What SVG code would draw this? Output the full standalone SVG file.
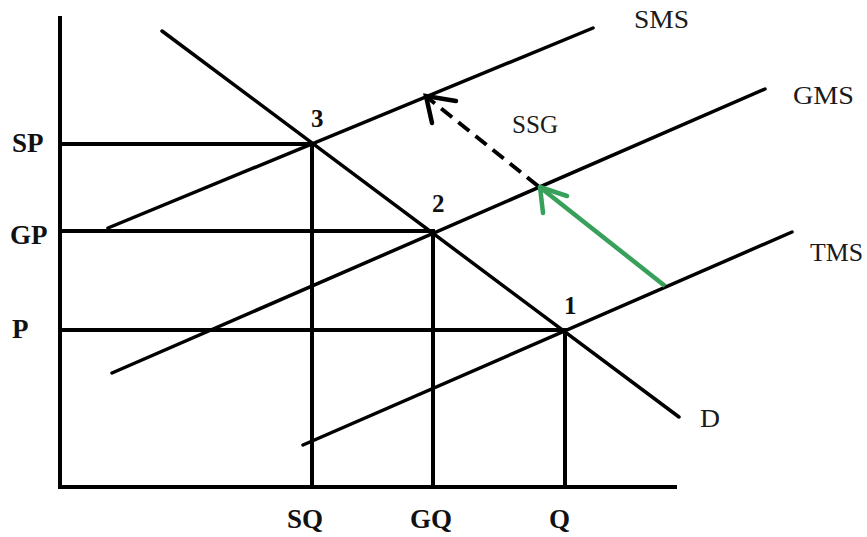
<svg xmlns="http://www.w3.org/2000/svg" width="867" height="537" viewBox="0 0 867 537">
<style>
.ax{stroke:#000;stroke-width:4;fill:none;stroke-linecap:square}
.ln{stroke:#000;stroke-width:3.5;fill:none;stroke-linecap:round}
.lb{font-family:"Liberation Serif","Times New Roman",serif;font-size:25px;fill:#1a1a1a}
.bd{font-family:"Liberation Serif","Times New Roman",serif;font-size:27px;font-weight:bold;fill:#111}
.nm{font-family:"Liberation Serif","Times New Roman",serif;font-size:25px;font-weight:bold;fill:#111}
</style>
<rect width="867" height="537" fill="#fff"/>
<g id="axes">
<line class="ax" x1="60" y1="18" x2="60" y2="487"/>
<line class="ax" x1="60" y1="487" x2="675" y2="487"/>
</g>
<g id="guides">
<line class="ax" x1="60" y1="144" x2="312" y2="144"/>
<line class="ax" x1="60" y1="231" x2="433" y2="231"/>
<line class="ax" x1="60" y1="330" x2="565" y2="330"/>
<line class="ax" x1="312" y1="144" x2="312" y2="487"/>
<line class="ax" x1="433" y1="231" x2="433" y2="487"/>
<line class="ax" x1="565" y1="330" x2="565" y2="487"/>
</g>
<g id="curves">
<line id="D" class="ln" x1="162" y1="31" x2="679" y2="417"/>
<line id="SMS" class="ln" x1="108" y1="228" x2="593" y2="28"/>
<line id="GMS" class="ln" x1="112" y1="373" x2="765" y2="89"/>
<line id="TMS" class="ln" x1="303" y1="445" x2="792" y2="232"/>
</g>
<g id="connectors">
<line x1="665" y1="286" x2="541" y2="188" stroke="#37a05a" stroke-width="4.5"/>
<polyline points="567,196 540,187 543,213" fill="none" stroke="#37a05a" stroke-width="4.5" stroke-linecap="round"/>
<line x1="538" y1="186" x2="428" y2="98" stroke="#000" stroke-width="4" stroke-dasharray="14 8"/>
<polyline points="456,101 426,96 432,123" fill="none" stroke="#000" stroke-width="4.5" stroke-linecap="round"/>
</g>
<g id="labels">
<text class="lb" x="634" y="28" textLength="55" lengthAdjust="spacingAndGlyphs">SMS</text>
<text class="lb" x="793" y="104" textLength="61" lengthAdjust="spacingAndGlyphs">GMS</text>
<text class="lb" x="810" y="261" textLength="53" lengthAdjust="spacingAndGlyphs">TMS</text>
<text class="lb" x="512" y="133" textLength="46" lengthAdjust="spacingAndGlyphs">SSG</text>
<text class="lb" x="700" y="427" textLength="20" lengthAdjust="spacingAndGlyphs">D</text>
<text class="bd" x="12" y="152">SP</text>
<text class="bd" x="10" y="244">GP</text>
<text class="bd" x="12" y="338">P</text>
<text class="bd" x="287" y="528">SQ</text>
<text class="bd" x="410" y="528">GQ</text>
<text class="bd" x="549" y="528">Q</text>
<text class="nm" x="311" y="127">3</text>
<text class="nm" x="432" y="212">2</text>
<text class="nm" x="564" y="314">1</text>
</g>
</svg>
